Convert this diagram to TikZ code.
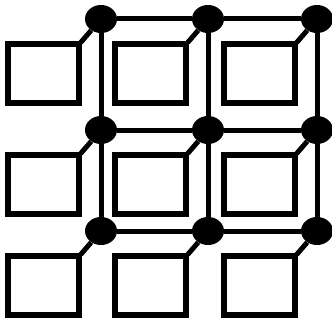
\documentclass[tikz,border=0pt]{standalone}
\usetikzlibrary{shapes.geometric}
\begin{document}
\begin{tikzpicture}[x=1pt,y=-1pt,
  dot/.style={ellipse,fill=black,draw=none,minimum width=32pt,minimum height=28pt,inner sep=0pt},
  box/.style={rectangle,draw=black,line width=6pt,minimum width=71pt,minimum height=59pt,inner sep=0pt},
  wire/.style={line width=5pt},
  link/.style={line width=5pt,shorten <=-2pt}]
\useasboundingbox (0,0) rectangle (332,321);
\foreach \c/\x in {1/101,2/208,3/317}{
  \foreach \r/\y in {1/19,2/130,3/231}{
    \node[dot] (d\r\c) at (\x,\y) {};
    \node[box] (s\r\c) at (\x-57.5,\y+54.5) {};
  }
}
\foreach \r in {1,2,3}{
  \draw[wire] (d\r1) -- (d\r2);
  \draw[wire] (d\r2) -- (d\r3);
}
\foreach \c in {1,2,3}{
  \draw[wire] (d1\c) -- (d2\c);
  \draw[wire] (d2\c) -- (d3\c);
}
\foreach \r in {1,2,3}{
  \foreach \c in {1,2,3}{
    \draw[link] (s\r\c.north east) -- (d\r\c);
  }
}
\end{tikzpicture}
\end{document}
